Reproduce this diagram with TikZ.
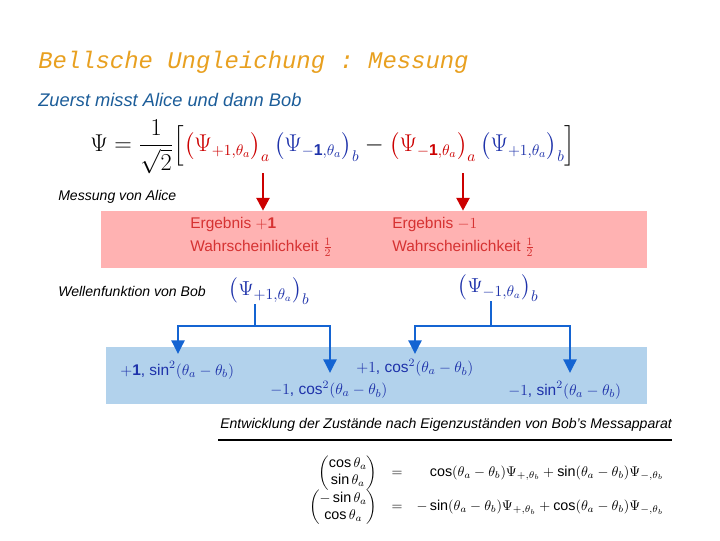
\documentclass[tikz,border=0pt]{standalone}
\usepackage{amsmath,amssymb}
\usepackage{fontspec}
\setmainfont{Liberation Sans}
\setsansfont{Liberation Sans}
\setmonofont{Liberation Mono}
\usetikzlibrary{arrows.meta,positioning}
\definecolor{titleorange}{RGB}{232,160,32}
\definecolor{subblue}{RGB}{28,93,153}
\definecolor{alicered}{RGB}{204,0,0}
\definecolor{alicepink}{RGB}{255,178,178}
\definecolor{alicetext}{RGB}{214,50,50}
\definecolor{bobblue}{RGB}{20,100,210}
\definecolor{boblight}{RGB}{178,210,236}
\definecolor{bobtext}{RGB}{30,50,170}
\newcommand{\Pa}{\theta_a}
\newcommand{\Pb}{\theta_b}
\tikzset{
  titletxt/.style={font=\ttfamily\itshape\fontsize{17}{20}\selectfont, text=titleorange, inner sep=0pt},
  subtxt/.style={font=\itshape\fontsize{13}{15}\selectfont, text=subblue, inner sep=0pt},
  lbl/.style={font=\itshape\fontsize{10}{12}\selectfont, inner sep=0pt},
  band/.style={draw=none, rectangle, inner sep=0pt, minimum width=#1},
  restxt/.style={font=\fontsize{11}{14}\selectfont, text=alicetext, align=left, inner sep=0pt},
  bobtxt/.style={font=\fontsize{11}{13}\selectfont, text=bobtext, inner sep=0pt},
  bobpsi/.style={inner sep=0pt, text=bobtext, font=\fontsize{15}{17}\selectfont},
  redarr/.style={-{Triangle[length=3.2mm,width=3.2mm]}, line width=2pt, alicered},
  bluearr/.style={-{Triangle[length=3.4mm,width=3.2mm]}, line width=2pt, bobblue},
  bluebar/.style={line width=2pt, bobblue},
}
\begin{document}
\begin{tikzpicture}[x=0.025cm, y=-0.025cm]
\useasboundingbox (0,0) rectangle (720,540);
\node[titletxt, anchor=base west] (title) at (38,68) {Bellsche Ungleichung : Messung};
\node[subtxt, anchor=base west] (sub) at (38,106) {Zuerst misst Alice und dann Bob};
\node[anchor=west, inner sep=0pt, font=\fontsize{16}{18}\selectfont] (psi) at (90,147)
  {$\displaystyle\Psi=\frac{1}{\sqrt{2}}\Big[\textcolor{alicered}{\big(\Psi_{+1,\Pa}\big)_a}\,\textcolor{bobtext}{\big(\Psi_{\mathbf{-1},\Pa}\big)_b}-\textcolor{alicered}{\big(\Psi_{\mathbf{-1},\Pa}\big)_a}\,\textcolor{bobtext}{\big(\Psi_{\mathbf{+}1,\Pa}\big)_b}\Big]$};
\node[lbl, anchor=base west] (mess) at (58,200) {Messung von Alice};

% Alice
\node[band=13.65cm, fill=alicepink, minimum height=1.425cm] (alice) at (374,239.5) {};
\node[restxt, anchor=west] (plus) at (190,237) {Ergebnis $+\mathbf{1}$\\[2pt]Wahrscheinlichkeit $\frac{1}{2}$};
\node[restxt, anchor=west] (minus) at (392,237) {Ergebnis $-1$\\[2pt]Wahrscheinlichkeit $\frac{1}{2}$};
\coordinate (a1) at (263,173);
\coordinate (a2) at (463,173);
\draw[redarr] (a1) -- (a1 |- alice.north);
\draw[redarr] (a2) -- (a2 |- alice.north);

% Bob
\node[lbl, anchor=base west] (welle) at (58,296) {Wellenfunktion von Bob};
\node[bobpsi] (bp) at (269,291) {$\big(\Psi_{+1,\Pa}\big)_b$};
\node[bobpsi] (bm) at (498,288) {$\big(\Psi_{-1,\Pa}\big)_b$};
\node[band=13.525cm, fill=boblight, minimum height=1.425cm] (bob) at (376.5,375.5) {};
\node[bobtxt, anchor=west] (r1) at (120,370) {$+\mathbf{1}$, $\sin^2(\Pa-\Pb)$};
\node[bobtxt, anchor=west] (r2) at (270,390) {$-1$, $\cos^2(\Pa-\Pb)$};
\node[bobtxt, anchor=west] (r3) at (356,368) {$+1$, $\cos^2(\Pa-\Pb)$};
\node[bobtxt, anchor=west] (r4) at (508,390) {$-1$, $\sin^2(\Pa-\Pb)$};
\coordinate (s1) at (255,326);
\coordinate (s2) at (491,326);
\coordinate (t1) at (178,354);
\coordinate (t2) at (330,373);
\coordinate (t3) at (415,354);
\coordinate (t4) at (570,373);
\draw[bluebar] (s1 |- bp.south) -- (s1);
\draw[bluebar] (s2 |- bm.south) -- (s2);
\draw[bluearr] (s1) -| (t1);
\draw[bluearr] (s1) -| (t2);
\draw[bluearr] (s2) -| (t3);
\draw[bluearr] (s2) -| (t4);

% Entwicklung
\node[lbl, anchor=base west] (entw) at (220,428) {Entwicklung der Zustände nach Eigenzuständen von Bob's Messapparat};
\draw[line width=2pt] (218,440) -- (672,440);
\node[anchor=east, inner sep=0pt, font=\fontsize{10.2}{12}\selectfont] (eqs) at (671,490)
  {$\begin{array}{rcr}
   \begin{pmatrix}\cos\Pa\\ \sin\Pa\end{pmatrix} & = & \cos(\Pa-\Pb)\Psi_{+,\Pb}+\sin(\Pa-\Pb)\Psi_{-,\Pb}\\[3pt]
   \begin{pmatrix}-\sin\Pa\\ \cos\Pa\end{pmatrix} & = & -\sin(\Pa-\Pb)\Psi_{+,\Pb}+\cos(\Pa-\Pb)\Psi_{-,\Pb}
  \end{array}$};
\end{tikzpicture}
\end{document}
